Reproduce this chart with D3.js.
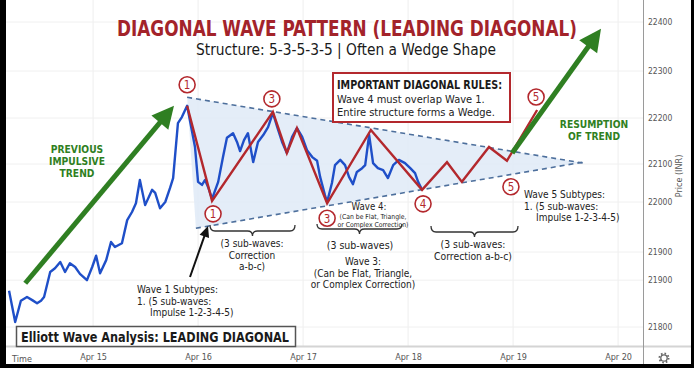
<!DOCTYPE html>
<html><head><meta charset="utf-8">
<script src="https://cdn.jsdelivr.net/npm/d3@7"></script>
<style>
html,body{margin:0;padding:0;background:#000;}
svg{display:block;}
</style></head>
<body>
<svg id="c" width="694" height="368"></svg>
<script>
// ---------------- DATA ----------------
const xTickDays = ["2024-04-15","2024-04-16","2024-04-17","2024-04-18","2024-04-19","2024-04-20"];
const yTickValues = [21800, 21875, 21920, 22000, 22100, 22200, 22300, 22400];
const yTickLabels = ["21800","21900","21900","22000","22100","22200","22300","22400"];

// Price series (blue): hours since Apr 15 00:00, price (INR)
const priceHours = [-19.2,-17.8,-16.5,-15.1,-13.9,-12.8,-11.9,-11.2,-9.8,-8.7,-7.5,-6.4,-5.3,-4.1,-3.0,-1.4,-0.2,0.7,1.6,3.0,4.1,5.0,6.6,7.8,8.9,9.8,10.7,11.9,13.5,14.2,15.3,16.5,17.6,18.3,19.4,20.3,21.5,
  23.3,24.0,24.9,25.6,26.3,27.2,28.6,29.7,30.6,32.0,32.9,33.6,34.5,35.4,36.6,37.7,38.9,40.0,41.1,42.1,43.2,44.3,45.5,46.6,47.8,48.9,50.1,51.2,51.9,53.0,53.5,54.6,55.3,56.5,57.6,58.5,59.4,60.3,61.5,62.2,63.1,64.0,65.1,66.3,67.4,68.6,69.9,71.3,72.5,73.6,74.3,75.2];
const priceValues = [21858,21808,21842,21848,21843,21838,21842,21848,21888,21894,21904,21888,21902,21896,21885,21875,21896,21914,21886,21907,21936,21928,21934,21971,21984,21998,22058,21995,22032,22024,21990,22000,22037,22063,22189,22202,22226,
  22137,22053,22045,22058,22039,22008,22053,22115,22157,22167,22148,22128,22152,22167,22104,22148,22163,22180,22211,22180,22148,22124,22159,22178,22159,22130,22115,22107,22066,22018,22000,22050,22097,22109,22097,22066,22047,22079,22089,22097,22163,22102,22089,22084,22063,22097,22109,22102,22089,22076,22053,22032];

// Wave count (red zig-zag)
const waveHours  = [21.5,27.2,41.1,44.3,46.6,53.5,63.5,75.2,80.9,84.3,90.5,94.6,101.5];
const waveValues = [22226,22003,22213,22124,22178,21998,22174,22032,22104,22053,22137,22107,22217];

// Wedge boundaries
const upperHours = [21.5,112.0], upperValues = [22244,22102];
const lowerHours = [23.5,112.0], lowerValues = [21958,22104];

// Trend arrows
const prevTrendHours = [-15.5,18.5], prevTrendValues = [21870,22226];
const resumeHours = [95.8,116.1], resumeValues = [22124,22386];

// Wave labels: text, index into wave points
const waveLabelText = ["1","1","3","3","4","5","5"];
const waveLabelIdx  = [0,1,2,5,7,12,11];

// ---------------- SCALES ----------------
const t0 = Date.UTC(2024,3,15);
const toDate = h => new Date(t0 + h*3600e3);
const x = d3.scaleUtc().domain([toDate(-19.9), toDate(125.7)]).range([6,643]);
const y = d3.scaleLinear().domain([21800,22000,22100,22200,22300,22400]).range([327,202,164,118,71,22]);
const X = h => x(toDate(h));

const svg = d3.select("#c");
const RED = "#b3282d", GREEN = "#2f7f22", BLUE = "#1f4fc8", DRED="#a3232a";
const bodyFont = "'DejaVu Sans Condensed','DejaVu Sans',sans-serif";
const narrow = "'DejaVu Sans Condensed','DejaVu Sans',sans-serif";

svg.append("rect").attr("x",0).attr("y",0).attr("width",694).attr("height",368).attr("fill","#000");
svg.append("rect").attr("x",6).attr("y",0).attr("width",685).attr("height",364).attr("fill","#fff");

// grid
const days = xTickDays.map(s => new Date(s+"T00:00:00Z"));
svg.append("g").selectAll("line").data(days).join("line")
  .attr("x1",d=>x(d)).attr("x2",d=>x(d)).attr("y1",0).attr("y2",346)
  .attr("stroke","#eeeeee").attr("stroke-width",1);
svg.append("g").selectAll("line").data(yTickValues).join("line")
  .attr("x1",6).attr("x2",643).attr("y1",d=>y(d)).attr("y2",d=>y(d))
  .attr("stroke","#f0f0f0").attr("stroke-width",1);

// wedge fill
const up0=[X(upperHours[0]),y(upperValues[0])], up1=[X(upperHours[1]),y(upperValues[1])];
const lo0=[X(lowerHours[0]),y(lowerValues[0])], lo1=[X(lowerHours[1]),y(lowerValues[1])];
svg.append("path").attr("d",d3.line()([up0,up1,lo1,lo0]) + "Z")
  .attr("fill","#dfeaf7").attr("opacity",0.85);

// axes
const yAxis = d3.axisRight(y).tickValues(yTickValues).tickFormat((d,i)=>yTickLabels[i]).tickSize(0).tickPadding(5);
const gy = svg.append("g").attr("transform","translate(643,0)").call(yAxis);
gy.select(".domain").remove();
gy.selectAll("text").attr("font-family",narrow).attr("font-size",8.5).attr("fill","#555");

svg.append("line").attr("x1",6).attr("x2",691).attr("y1",346.5).attr("y2",346.5).attr("stroke","#d4d4d4").attr("stroke-width",2);
svg.append("line").attr("x1",643.5).attr("x2",643.5).attr("y1",0).attr("y2",364).attr("stroke","#9a9a9a").attr("stroke-width",1);

const xAxis = d3.axisBottom(x).tickValues(days).tickFormat(d3.utcFormat("%b %-d")).tickSize(0).tickPadding(0);
const gx = svg.append("g").attr("transform","translate(0,354)").call(xAxis);
gx.select(".domain").remove();
gx.selectAll("text").attr("font-family",narrow).attr("font-size",9).attr("fill","#555");
svg.append("text").attr("x",22).attr("y",362).attr("text-anchor","middle").attr("font-family",narrow).attr("font-size",9).attr("fill","#555").text("Time");
svg.append("text").attr("transform","translate(682,176) rotate(-90)").attr("text-anchor","middle").attr("font-family",narrow).attr("font-size",9).attr("fill","#555").text("Price (INR)");
// gear icon
svg.append("circle").attr("cx",664).attr("cy",358).attr("r",3.2).attr("fill","none").attr("stroke","#666").attr("stroke-width",1.3);
svg.append("circle").attr("cx",664).attr("cy",358).attr("r",4.6).attr("fill","none").attr("stroke","#666").attr("stroke-width",1.8).attr("stroke-dasharray","1.6,2.0");

// wedge dashed lines
[[up0,up1],[lo0,lo1]].forEach(seg=>{
  svg.append("path").attr("d",d3.line()(seg)).attr("fill","none")
    .attr("stroke","#4d6f9c").attr("stroke-width",1.6).attr("stroke-dasharray","5,4");
});

// price line
const pricePts = priceHours.map((h,i)=>[X(h),y(priceValues[i])]);
svg.append("path").attr("d",d3.line()(pricePts)).attr("fill","none")
  .attr("stroke",BLUE).attr("stroke-width",2.4).attr("stroke-linejoin","round");

// wave line
const wavePts = waveHours.map((h,i)=>[X(h),y(waveValues[i])]);
svg.append("path").attr("d",d3.line()(wavePts)).attr("fill","none")
  .attr("stroke",RED).attr("stroke-width",2.4).attr("stroke-linejoin","miter");

// arrows
function arrow(p0,p1,color,w,hl,hw){
  const dx=p1[0]-p0[0], dy=p1[1]-p0[1], L=Math.hypot(dx,dy), ux=dx/L, uy=dy/L;
  const b=[p1[0]-ux*hl, p1[1]-uy*hl];
  svg.append("line").attr("x1",p0[0]).attr("y1",p0[1]).attr("x2",b[0]+ux*1).attr("y2",b[1]+uy*1)
    .attr("stroke",color).attr("stroke-width",w);
  const l=[b[0]-uy*hw,b[1]+ux*hw], r=[b[0]+uy*hw,b[1]-ux*hw];
  svg.append("path").attr("d",d3.line()([p1,l,r])+"Z").attr("fill",color);
}
arrow([X(prevTrendHours[0]),y(prevTrendValues[0])],[X(prevTrendHours[1]),y(prevTrendValues[1])],GREEN,5,22,11);
arrow([X(resumeHours[0]),y(resumeValues[0])],[X(resumeHours[1]),y(resumeValues[1])],GREEN,5,22,11);
arrow([190,277],[208,226],"#111",2,11,5);

// wave circle labels
const labelDx = [0,1,-1,0,1,-1,4], labelDy = [-21,13,-13,15,14,-13,26];
waveLabelText.forEach((t,i)=>{
  const p = wavePts[waveLabelIdx[i]];
  const cx=p[0]+labelDx[i], cy=p[1]+labelDy[i];
  svg.append("circle").attr("cx",cx).attr("cy",cy).attr("r",8).attr("fill","#fff")
    .attr("stroke",RED).attr("stroke-width",1.6);
  svg.append("text").attr("x",cx).attr("y",cy+4.3).attr("text-anchor","middle")
    .attr("font-family",bodyFont).attr("font-size",11.5).attr("fill",RED).text(t);
});

// braces
function brace(x1,x2,yTop,yMid,yTip){
  const m=(x1+x2)/2, r=5;
  const d=`M${x1},${yTop} Q${x1},${yMid} ${x1+r},${yMid} L${m-r},${yMid} Q${m},${yMid} ${m},${yTip} Q${m},${yMid} ${m+r},${yMid} L${x2-r},${yMid} Q${x2},${yMid} ${x2},${yTop}`;
  svg.append("path").attr("d",d).attr("fill","none").attr("stroke","#333").attr("stroke-width",1.3);
}
brace(210,295,225,231,236);
brace(317,402,224,229,234);
brace(431,518,226,232,237);

// text helpers
function txt(xp,yp,s,opt={}){
  const t = svg.append("text").attr("x",xp).attr("y",yp).attr("text-anchor",opt.anchor||"middle")
    .attr("font-family",opt.font||bodyFont).attr("font-size",opt.size||11)
    .attr("font-weight",opt.weight||"normal").attr("fill",opt.fill||"#222").text(s);
  if (opt.len) t.attr("textLength",opt.len).attr("lengthAdjust","spacingAndGlyphs");
  return t;
}
// multi-line block: lines = [[text, dx], ...]
function block(xp,yp,lines,lh,opt={}){
  const t = svg.append("text").attr("x",xp).attr("y",yp).attr("text-anchor",opt.anchor||"middle")
    .attr("font-family",opt.font||bodyFont).attr("font-size",opt.size||11)
    .attr("font-weight",opt.weight||"normal").attr("fill",opt.fill||"#222");
  lines.forEach((l,i)=>{
    const s = Array.isArray(l)?l[0]:l, dx = Array.isArray(l)?l[1]:0;
    t.append("tspan").attr("x",xp+dx).attr("dy",i===0?0:lh).text(s);
  });
  return t;
}

// title (narrow look: smaller font stretched vertically)
const titleG = svg.append("g").attr("transform","translate(347,36) scale(1,1.15)");
titleG.append("text").attr("x",0).attr("y",0).attr("text-anchor","middle")
  .attr("font-family",bodyFont).attr("font-size",19).attr("font-weight","bold").attr("fill",DRED)
  .attr("textLength",460).attr("lengthAdjust","spacingAndGlyphs")
  .text("DIAGONAL WAVE PATTERN (LEADING DIAGONAL)");
txt(346,55,"Structure: 5-3-5-3-5 | Often a Wedge Shape",{size:16,fill:"#1a1a1a",len:300});

// green labels
block(77,153,["PREVIOUS","IMPULSIVE","TREND"],11.8,{size:10.2,weight:"bold",fill:GREEN});
block(594,128,["RESUMPTION","OF TREND"],12,{size:10.2,weight:"bold",fill:GREEN});

// rules box
svg.append("rect").attr("x",333).attr("y",73).attr("width",177).attr("height",49).attr("fill","#fff").attr("stroke",RED).attr("stroke-width",2);
txt(337,88.5,"IMPORTANT DIAGONAL RULES:",{anchor:"start",size:12,weight:"bold",fill:"#1a1a1a",len:165});
block(337,103,["Wave 4 must overlap Wave 1.","Entire structure forms a Wedge."],13,{anchor:"start",size:11});

// brace texts
block(252,247,["(3 sub-waves:","Correction","a-b-c)"],11.7,{size:10});
txt(369,209.5,"Wave 4:",{size:9.6});
block(373,219,["(Can be Flat, Triangle,","or Complex Correction)"],8,{size:6.8});
txt(360,249,"(3 sub-waves)",{size:10.5});
block(363,265,["Wave 3:","(Can be Flat, Triangle,","or Complex Correction)"],11.7,{size:10});
block(473,248,["(3 sub-waves:","Correction a-b-c)"],12,{size:10.3});

block(524,198,[["Wave 5 Subtypes:",0],["1. (5 sub-waves:",0],["Impulse 1-2-3-4-5)",12]],11.7,{anchor:"start",size:10});
block(137,293,[["Wave 1 Subtypes:",0],["1. (5 sub-waves:",0],["Impulse 1-2-3-4-5)",13]],11.7,{anchor:"start",size:10});

// bottom-left box
svg.append("rect").attr("x",16.5).attr("y",326.5).attr("width",279).attr("height",20).attr("fill","#fff").attr("stroke","#555").attr("stroke-width",1.5);
txt(21,342,"Elliott Wave Analysis: LEADING DIAGONAL",{anchor:"start",size:14,weight:"bold",fill:"#1a1a1a",len:268});
</script>
</body></html>
